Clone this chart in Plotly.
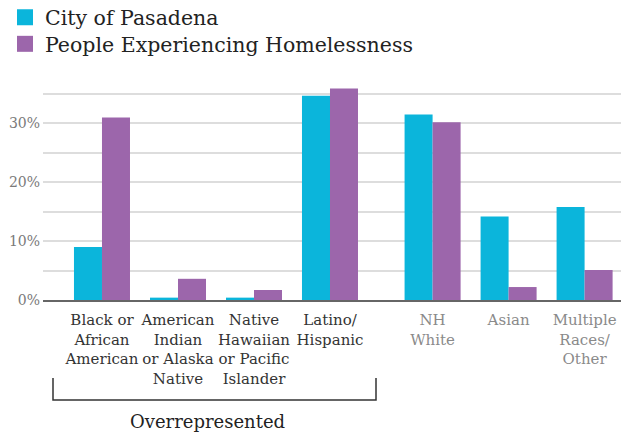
import plotly.graph_objects as go

# ---------------- data ----------------
categories = [
    "Black or<br>African<br>American",
    "American<br>Indian<br>or Alaska<br>Native",
    "Native<br>Hawaiian<br>or Pacific<br>Islander",
    "Latino/<br>Hispanic",
    "NH<br>White",
    "Asian",
    "Multiple<br>Races/<br>Other",
]
pasadena = [9.0, 0.4, 0.4, 34.7, 31.5, 14.2, 15.8]
homeless = [31.0, 3.6, 1.7, 35.9, 30.2, 2.2, 5.1]
series_names = ["City of Pasadena", "People Experiencing Homelessness"]
y_tick_values = [0, 5, 10, 15, 20, 25, 30, 35]
y_tick_labels = ["0%", "", "10%", "", "20%", "", "30%", ""]
bracket_label = "Overrepresented"
n_overrepresented = 4

# ---------------- style / layout ----------------
# Page body margin is reset to 0 (post_script), so figure pixels == window pixels.
W, H = 621, 434
PLOT_L, PLOT_R, PLOT_T, PLOT_B = 43, 621, 88, 300
ML, MR, MT, MB = PLOT_L, W - PLOT_R, PLOT_T, H - PLOT_B
PW, PH = PLOT_R - PLOT_L, PLOT_B - PLOT_T
FONT = "DejaVu Serif"
C_CYAN = "#0bb5db"
C_PURPLE = "#9c66ab"
GROUP_GAP = 0.35
X_RANGE = [-0.776, 6.829]
Y_RANGE = [0, 36]

xpos = [i + (GROUP_GAP if i >= n_overrepresented else 0) for i in range(len(categories))]


def colored(label, color):
    return "<br>".join(f'<span style="color:{color}">{p}</span>' for p in label.split("<br>"))


tick_text = [colored(c, "#333333" if i < n_overrepresented else "#8a8a8a")
             for i, c in enumerate(categories)]


def px_x(px):
    return (px - PLOT_L) / PW


def px_y(py):
    return (PLOT_B - py) / PH


fig = go.Figure()
for name, vals, col in [(series_names[0], pasadena, C_CYAN), (series_names[1], homeless, C_PURPLE)]:
    fig.add_trace(go.Bar(x=xpos, y=vals, name=name, marker=dict(color=col, line=dict(width=0)),
                         showlegend=False))
# legend entries with larger square swatches (one legend per row for exact placement)
for name, col, lg in [(series_names[0], C_CYAN, "legend"), (series_names[1], C_PURPLE, "legend2")]:
    fig.add_trace(go.Scatter(x=[None], y=[None], mode="markers", name=name, legend=lg,
                             marker=dict(symbol="square", size=16, color=col)))

legend_common = dict(xanchor="left", yanchor="top", font=dict(size=20.5, color="#222222"),
                     bgcolor="rgba(0,0,0,0)", itemsizing="trace")

fig.update_layout(
    width=W, height=H,
    margin=dict(l=ML, r=MR, t=MT, b=MB, pad=0, autoexpand=False),
    paper_bgcolor="white", plot_bgcolor="white",
    barmode="group", bargap=0.263, bargroupgap=0,
    font=dict(family=FONT, color="#222222"),
    legend=dict(x=px_x(5), y=px_y(-2.5), **legend_common),
    legend2=dict(x=px_x(5), y=px_y(24), **legend_common),
    xaxis=dict(range=X_RANGE, tickmode="array", tickvals=xpos, ticktext=tick_text,
               showgrid=False, zeroline=False, showline=True, linecolor="#666666", linewidth=2,
               ticks="", tickangle=0, automargin=False, ticklabelstandoff=5,
               tickfont=dict(size=15, family=FONT), fixedrange=True),
    yaxis=dict(range=Y_RANGE, tickmode="array", tickvals=y_tick_values, ticktext=y_tick_labels,
               showgrid=True, gridcolor="#dddddd", gridwidth=2, zeroline=False, showline=False,
               ticks="", automargin=False, ticklabelstandoff=2,
               tickfont=dict(size=14, family=FONT, color="#7a7a7a"), fixedrange=True),
    shapes=[
        dict(type="path", xref="paper", yref="paper",
             path=f"M {px_x(53)},{px_y(378)} L {px_x(53)},{px_y(400)} L {px_x(376)},{px_y(400)} L {px_x(376)},{px_y(378)}",
             line=dict(color="#333333", width=1.5)),
    ],
    annotations=[
        dict(text=bracket_label, xref="paper", yref="paper", x=px_x(207), y=px_y(421),
             xanchor="center", yanchor="middle", showarrow=False,
             font=dict(size=18, family=FONT, color="#222222")),
    ],
)

fig.write_html("out.html", config={"displayModeBar": False},
               post_script="document.body.style.margin='0';")
